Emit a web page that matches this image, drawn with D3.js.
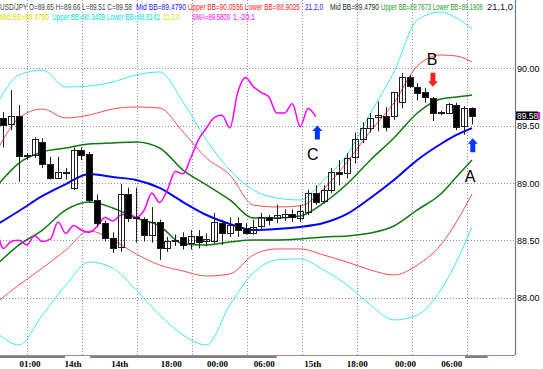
<!DOCTYPE html>
<html>
<head>
<meta charset="utf-8">
<script src="https://cdn.jsdelivr.net/npm/d3@7"></script>
<style>
  body { margin: 0; background: #fff; }
  svg { display: block; }
</style>
</head>
<body>
<svg id="chart" width="543" height="369"></svg>
<script>
// hourly USD/JPY candles, oldest first
var opens  = [89.57,89.51,89.58,89.23,89.24,89.36,89.17,89.05,89.10,88.96,89.29,89.25,88.85,88.65,88.52,88.44,88.90,88.69,88.69,88.55,
              88.66,88.43,88.49,88.53,88.48,88.54,88.49,88.49,88.65,88.56,88.65,88.61,88.57,88.62,88.70,88.69,88.70,88.73,88.70,88.74,
              88.91,88.84,88.94,89.10,89.09,89.22,89.38,89.48,89.57,89.58,89.58,89.70,89.92,89.84,89.79,89.74,89.62,89.61,89.68,89.49,89.65];
var highs  = [89.62,89.81,89.68,89.26,89.40,89.39,89.23,89.23,89.13,89.31,89.31,89.27,88.90,88.67,88.57,88.99,88.96,88.96,88.70,88.79,
              88.68,88.53,88.55,88.57,88.59,88.59,88.56,88.74,88.68,88.70,88.70,88.65,88.68,88.74,88.72,88.81,88.77,88.77,88.81,88.94,
              88.98,88.98,89.13,89.20,89.26,89.44,89.53,89.61,89.71,89.66,89.79,89.96,89.94,89.87,89.83,89.75,89.63,89.70,89.70,89.67,89.66];
var lows   = [89.31,89.46,89.01,89.20,89.22,89.13,89.03,89.04,89.03,88.94,89.20,88.83,88.62,88.49,88.39,88.40,88.66,88.48,88.49,88.48,
              88.33,88.40,88.45,88.42,88.42,88.43,88.45,88.47,88.46,88.53,88.53,88.55,88.55,88.59,88.63,88.65,88.67,88.66,88.66,88.72,
              88.81,88.82,88.91,88.98,89.04,89.17,89.35,89.44,89.45,89.45,89.55,89.65,89.83,89.72,89.70,89.54,89.59,89.60,89.46,89.42,89.51];
var closes = [89.51,89.58,89.23,89.24,89.38,89.17,89.05,89.10,89.09,89.29,89.25,88.85,88.65,88.52,88.43,88.90,88.69,88.70,88.55,88.66,
              88.43,88.49,88.50,88.46,88.54,88.49,88.51,88.66,88.56,88.63,88.59,88.57,88.62,88.70,88.67,88.72,88.73,88.70,88.76,88.91,
              88.83,88.94,89.10,89.08,89.22,89.38,89.48,89.57,89.59,89.48,89.79,89.92,89.84,89.79,89.75,89.61,89.61,89.69,89.49,89.65,89.58];

// Bollinger band lines, read at these candle positions
var bandIdx  = [-0.5, 2, 5, 8, 11, 14, 17, 20, 23, 26, 29, 32, 35, 38, 41, 44, 47, 50, 53, 56, 58, 60];
var midBB    = [88.651,88.756,88.887,88.991,89.079,89.052,89.026,88.957,88.834,88.721,88.643,88.590,88.599,88.617,88.651,88.730,88.869,89.026,89.201,89.340,89.419,89.479];
var upper2   = [89.323,89.567,89.645,89.567,89.593,89.645,89.663,89.654,89.445,89.218,89.070,88.808,88.791,88.800,88.948,89.183,89.453,89.698,90.020,90.116,90.107,90.056];
var lower2   = [87.980,88.111,88.259,88.416,88.582,88.503,88.381,88.285,88.233,88.189,88.207,88.372,88.425,88.425,88.372,88.311,88.242,88.198,88.285,88.460,88.660,88.904];
var upper3   = [89.724,89.942,89.985,89.837,89.846,89.881,89.942,89.968,89.706,89.375,89.113,88.939,88.869,88.852,89.026,89.244,89.610,89.968,90.421,90.491,90.438,90.343];
var lower3   = [87.675,87.588,87.849,88.111,88.311,88.259,88.067,87.849,87.675,87.588,87.937,88.216,88.329,88.338,88.242,88.111,87.937,87.806,87.849,88.067,88.311,88.617];
var upper1   = [89.000,89.174,89.270,89.305,89.340,89.349,89.358,89.305,89.113,88.983,88.852,88.695,88.695,88.712,88.826,88.991,89.201,89.392,89.610,89.732,89.750,89.767];
var lower1   = [88.311,88.460,88.590,88.765,88.834,88.782,88.695,88.625,88.468,88.460,88.486,88.503,88.503,88.512,88.529,88.538,88.564,88.625,88.765,88.904,89.052,89.201];

var priceTicks = [88.00, 88.50, 89.00, 89.50, 90.00];
var timeLabels = ['01:00', '14th', '14th', '18:00', '00:00', '06:00', '15th', '18:00', '00:00', '06:00'];
var timeIdx    = [3.4, 8.9, 14.9, 21.5, 27.4, 33.4, 39.6, 45.3, 51.5, 57.4];
var dayBarFrom = [-1, 11.1, 59.1];
var dayBarTo   = [7.9, 35, 62];

var noteLabels = ['A', 'B', 'C'];
var noteIdx    = [59.75, 54.9, 39.6];
var notePrice  = [89.01, 90.03, 89.20];
var arrowIdx   = [60.1, 55.0, 40.2];
var arrowPrice = [89.33, 89.90, 89.44];
var arrowDir   = ['up', 'down', 'up'];

var W = 543, H = 369, axisX = 515, axisY = 355;
var svg = d3.select('#chart');

var x = d3.scaleLinear().domain([0, 60]).range([3.4, 472]);
var y = d3.scaleLinear().domain([88, 90]).range([297.7, 68.3]);

svg.append('clipPath').attr('id', 'plot')
  .append('rect').attr('x', 0).attr('y', 0).attr('width', axisX).attr('height', axisY);

var grid = svg.append('g');
// horizontal grid
grid.selectAll('.hg').data(priceTicks).enter().append('line')
  .attr('x1', 0).attr('x2', axisX)
  .attr('y1', function(d) { return Math.round(y(d)) + 0.5; })
  .attr('y2', function(d) { return Math.round(y(d)) + 0.5; })
  .attr('stroke', '#a088b0').attr('stroke-dasharray', '1,2');
// vertical grid every 7 candles or so
var gridIdx = d3.range(9).map(function(k) { return 3.02 + 7.04 * k; });
grid.selectAll('.vg').data(gridIdx).enter().append('line')
  .attr('x1', function(d) { return Math.round(x(d)) + 0.5; })
  .attr('x2', function(d) { return Math.round(x(d)) + 0.5; })
  .attr('y1', 0).attr('y2', axisY)
  .attr('stroke', '#a088b0').attr('stroke-dasharray', '1,2');

var plot = svg.append('g').attr('clip-path', 'url(#plot)');

var line = d3.line()
  .x(function(d) { return x(d[0]); })
  .y(function(d) { return y(d[1]); })
  .curve(d3.curveMonotoneX);

function band(vals) { return vals.map(function(v, i) { return [bandIdx[i], v]; }); }

// lagging close (shift -20)
var lagging = closes.slice(19).map(function(c, k) { return [k - 1, c]; });

var series = [
  { d: band(upper3), c: '#40e8e8', w: 1 },
  { d: band(lower3), c: '#40e8e8', w: 1 },
  { d: band(upper2), c: '#f05050', w: 1 },
  { d: band(lower2), c: '#f05050', w: 1 },
  { d: band(upper1), c: '#107810', w: 1.5 },
  { d: band(lower1), c: '#107810', w: 1.5 },
  { d: band(midBB),  c: '#0000ff', w: 2 },
  { d: lagging,      c: '#ff00ff', w: 1.5 }
];
plot.selectAll('.ser').data(series).enter().append('path')
  .attr('d', function(s) { return line(s.d); })
  .attr('fill', 'none')
  .attr('stroke', function(s) { return s.c; })
  .attr('stroke-width', function(s) { return s.w; });

// candles
var candles = closes.map(function(c, i) {
  return { i: i, o: opens[i], h: highs[i], l: lows[i], c: c };
});
var cg = plot.selectAll('.candle').data(candles).enter().append('g');
cg.append('line')
  .attr('x1', function(d) { return Math.round(x(d.i)) + 0.5; })
  .attr('x2', function(d) { return Math.round(x(d.i)) + 0.5; })
  .attr('y1', function(d) { return y(d.h); })
  .attr('y2', function(d) { return y(d.l); })
  .attr('stroke', '#202020');
cg.append('rect')
  .attr('x', function(d) { return Math.round(x(d.i)) - 3 + 0.5; })
  .attr('width', 6)
  .attr('y', function(d) { return Math.round(y(Math.max(d.o, d.c))) + 0.5; })
  .attr('height', function(d) { return Math.max(1, Math.round(Math.abs(y(d.o) - y(d.c)))); })
  .attr('fill', function(d) { return d.c < d.o ? '#000' : '#fff'; })
  .attr('fill-opacity', function(d) { return d.c < d.o ? 1 : 0; })
  .attr('stroke', '#202020');

// arrows
var arrows = arrowIdx.map(function(v, i) { return { i: v, p: arrowPrice[i], dir: arrowDir[i] }; });
plot.selectAll('.arrow').data(arrows).enter().append('path')
  .attr('transform', function(d) {
    return 'translate(' + x(d.i) + ',' + y(d.p) + ')' + (d.dir === 'down' ? ' rotate(180)' : '');
  })
  .attr('d', 'M0,-7 L5,-1.5 L2.5,-1.5 L2.5,7 L-2.5,7 L-2.5,-1.5 L-5,-1.5 Z')
  .attr('fill', function(d) { return d.dir === 'down' ? '#ff2020' : '#0038ff'; });

plot.selectAll('.note').data(noteLabels).enter().append('text')
  .attr('x', function(d, i) { return x(noteIdx[i]); })
  .attr('y', function(d, i) { return y(notePrice[i]); })
  .attr('text-anchor', 'middle')
  .attr('font-family', 'Liberation Sans, Arial, sans-serif')
  .attr('font-size', 16)
  .attr('fill', '#000')
  .text(function(d) { return d; });

// right price axis
svg.append('line').attr('x1', axisX + 0.5).attr('x2', axisX + 0.5).attr('y1', 0).attr('y2', axisY)
  .attr('stroke', '#6a8080').attr('stroke-width', 1.2);
svg.selectAll('.pt').data(priceTicks).enter().append('text')
  .attr('x', axisX + 2).attr('y', function(d) { return y(d) + 3.5; })
  .attr('font-family', 'Liberation Sans, Arial, sans-serif').attr('font-size', 9)
  .attr('fill', '#000')
  .text(function(d) { return d.toFixed(2); });

// last price tag
var last = closes[closes.length - 1];
svg.append('rect').attr('x', axisX + 1).attr('y', 111.5).attr('width', 22).attr('height', 8.5).attr('fill', '#000');
svg.append('rect').attr('x', axisX + 23).attr('y', 112).attr('width', 2).attr('height', 7.5).attr('fill', '#ff00ff');
svg.append('text').attr('x', axisX + 2).attr('y', 118.6)
  .attr('font-family', 'Liberation Sans, Arial, sans-serif').attr('font-size', 8.5)
  .attr('fill', '#fff').text(last.toFixed(2));

// bottom time axis
svg.append('line').attr('x1', 0).attr('x2', axisX).attr('y1', axisY + 0.5).attr('y2', axisY + 0.5)
  .attr('stroke', '#9a8a9a');
svg.selectAll('.daybar').data(dayBarFrom).enter().append('rect')
  .attr('x', function(d) { return Math.max(0, x(d)); })
  .attr('width', function(d, i) { return Math.min(axisX, x(dayBarTo[i])) - Math.max(0, x(d)); })
  .attr('y', axisY + 1).attr('height', 2).attr('fill', '#808080');
svg.selectAll('.tl').data(timeLabels).enter().append('text')
  .attr('x', function(d, i) { return x(timeIdx[i]); })
  .attr('y', 367)
  .attr('text-anchor', 'middle')
  .attr('font-family', 'Liberation Serif, serif').attr('font-weight', 'bold').attr('font-size', 9)
  .attr('fill', '#000')
  .text(function(d) { return d; });

// legend, two rows of coloured readouts squeezed into their slots
var legendRows = [
  [ ['USD/JPY O=89.65 H=89.66 L=89.51 C=89.58', '#404040', 0, 132],
    ['Mid BB=89.4790', '#2020ff', 136, 50],
    ['Upper BB=90.0556 Lower BB=88.9025', '#ff2020', 188, 112],
    ['21,2,0', '#2020ff', 305, 18],
    ['Mid BB=89.4790', '#203020', 330, 49],
    ['Upper BB=89.7673 Lower BB=89.1908', '#20a020', 381, 102],
    ['21,1,0', '#202020', 487, 26] ],
  [ ['Mid BB=89.4790', '#e0e000', 0, 49],
    ['Upper BB=90.3439 Lower BB=88.6142', '#00e0e0', 52, 108],
    ['21,3,0', '#e0e000', 163, 17],
    ['SMA=89.5800', '#ff00ff', 192, 38],
    ['1,-20,1', '#ff00ff', 233, 22] ]
];
legendRows.forEach(function(row, r) {
  svg.selectAll('.lg' + r).data(row).enter().append('text')
    .attr('x', 0).attr('y', 0)
    .attr('font-family', 'Liberation Sans, Arial, sans-serif').attr('font-size', 9)
    .attr('fill', function(d) { return d[1]; })
    .text(function(d) { return d[0]; })
    .attr('transform', function(d) {
      var w = this.getComputedTextLength();
      return 'translate(' + d[2] + ',' + (9.5 + r * 10) + ') scale(' + (d[3] / w) + ',1)';
    });
});
</script>
</body>
</html>
